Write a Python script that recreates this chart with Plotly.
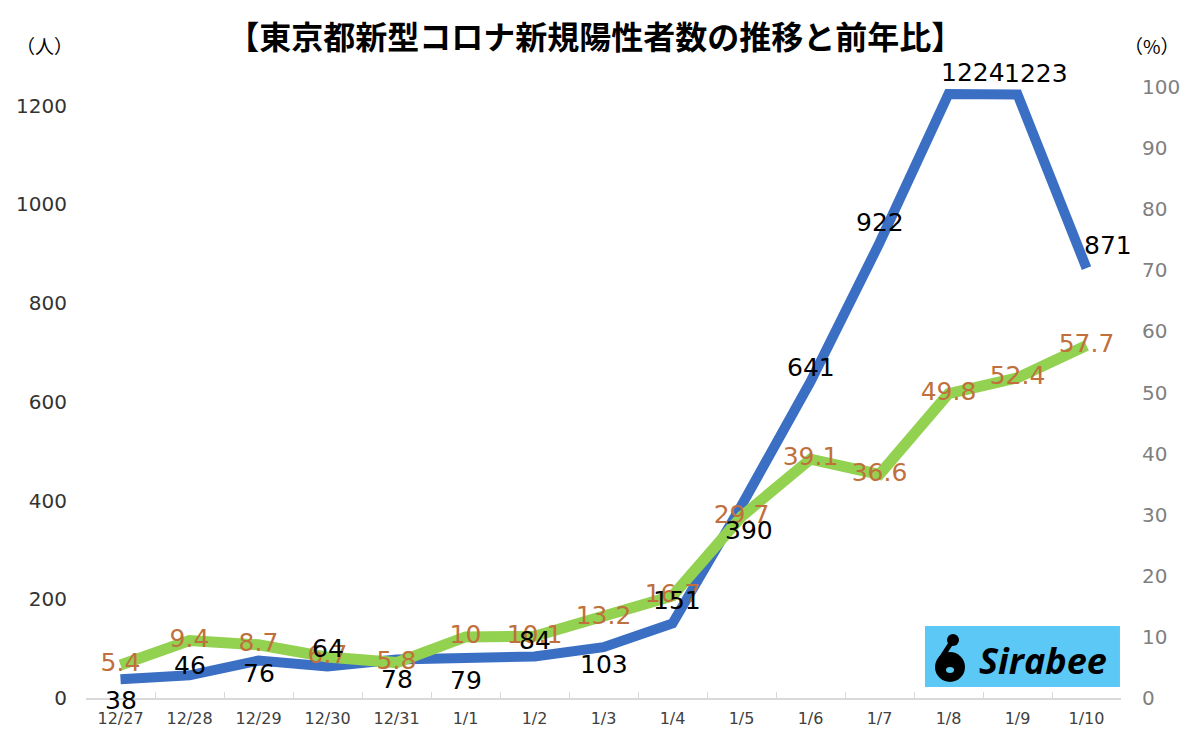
import plotly.graph_objects as go

dates = ["12/27", "12/28", "12/29", "12/30", "12/31", "1/1", "1/2", "1/3",
         "1/4", "1/5", "1/6", "1/7", "1/8", "1/9", "1/10"]
cases = [38, 46, 76, 64, 78, 79, 84, 103, 151, 390, 641, 922, 1224, 1223, 871]
ratio = [5.4, 9.4, 8.7, 6.7, 5.8, 10, 10.1, 13.2, 16.7, 29.7, 39.1, 36.6, 49.8, 52.4, 57.7]
left_ticks = [0, 200, 400, 600, 800, 1000, 1200]
right_ticks = [0, 10, 20, 30, 40, 50, 60, 70, 80, 90, 100]

# label offsets (pixels) for case labels
case_yshift = [-21, 10, -13, 18, -20, -21, 16, -17, 23, -25, 14, 20, 21, 21, 23]
case_xshift = [0, 0, 0, 0, 0, 0, 0, 0, 4, 7, 0, 0, 24, 18, 21]

BLUE = "#3A6FC4"
GREEN = "#93D250"
ORANGE = "#C0703C"
FONT = "Noto Sans CJK JP"
NUMFONT = "DejaVu Sans"

fig = go.Figure()
fig.add_trace(go.Scatter(
    x=dates, y=cases, mode="lines", yaxis="y",
    line=dict(color=BLUE, width=10), showlegend=False, hoverinfo="skip"))
fig.add_trace(go.Scatter(
    x=dates, y=ratio, mode="lines+text", yaxis="y2",
    text=[f"{v:g}" for v in ratio], textposition="middle center",
    textfont=dict(color=ORANGE, size=25, family=NUMFONT),
    line=dict(color=GREEN, width=11), showlegend=False, hoverinfo="skip"))

annotations = []
for d, v, ys, xs in zip(dates, cases, case_yshift, case_xshift):
    annotations.append(dict(
        x=d, y=v, xref="x", yref="y", text=str(v), showarrow=False,
        xanchor="center", yanchor="middle",
        yshift=ys, xshift=xs,
        font=dict(size=25, color="#000000", family=NUMFONT)))

annotations += [
    dict(x=(44 - 86) / 1035, y=(698 - 45) / 611, xref="paper", yref="paper", text="（人）",
         showarrow=False, xanchor="center", yanchor="middle",
         font=dict(size=19, color="#000000", family=FONT)),
    dict(x=(1152 - 86) / 1035, y=(698 - 45) / 611, xref="paper", yref="paper", text="（%）",
         showarrow=False, xanchor="center", yanchor="middle",
         font=dict(size=19, color="#000000", family=FONT)),
    dict(x=(1043 - 86) / 1035, y=(698 - 660) / 611, xref="paper", yref="paper",
         text="<b><i>Sirabee</i></b>", showarrow=False, xanchor="center", yanchor="middle",
         font=dict(size=36, color="#000000", family="Open Sans")),
]

shapes = [
    dict(type="rect", xref="paper", yref="paper", x0=0.8106, x1=0.999, y0=0.018, y1=0.118,
         fillcolor="#5BC8F5", line=dict(width=0), layer="above"),
    dict(type="circle", xref="paper", yref="paper",
         x0=(950 - 15 - 86) / 1035, x1=(950 + 15 - 86) / 1035,
         y0=(698 - 667 - 15) / 611, y1=(698 - 667 + 15) / 611,
         fillcolor="#000000", line=dict(width=0), layer="above"),
    dict(type="circle", xref="paper", yref="paper",
         x0=(953 - 6 - 86) / 1035, x1=(953 + 6 - 86) / 1035,
         y0=(698 - 640 - 6) / 611, y1=(698 - 640 + 6) / 611,
         fillcolor="#000000", line=dict(width=0), layer="above"),
    dict(type="line", xref="paper", yref="paper",
         x0=(951 - 86) / 1035, x1=(940 - 86) / 1035,
         y0=(698 - 643) / 611, y1=(698 - 660) / 611,
         line=dict(color="#000000", width=5), layer="above"),
    dict(type="circle", xref="paper", yref="paper",
         x0=(950 - 4 - 86) / 1035, x1=(950 + 4 - 86) / 1035,
         y0=(698 - 670 - 3) / 611, y1=(698 - 670 + 3) / 611,
         fillcolor="#5BC8F5", line=dict(width=0), layer="above"),
]

fig.update_layout(
    width=1200, height=742,
    margin=dict(l=86, r=79, t=87, b=44),
    paper_bgcolor="white", plot_bgcolor="white",
    font=dict(family=FONT),
    title=dict(text="<b>【東京都新型コロナ新規陽性者数の推移と前年比】</b>",
               x=0.496, xanchor="center", y=1 - 38 / 742, yanchor="middle",
               font=dict(size=32, color="#000000", family=FONT)),
    xaxis=dict(type="category", range=[-0.5, len(dates) - 0.5], showgrid=False,
               showline=True, linecolor="#D9D9D9",
               linewidth=2, ticks="inside", ticklen=6, tickcolor="#D9D9D9",
               tickson="boundaries", tickfont=dict(size=16, color="#404040", family=NUMFONT),
               ticklabelstandoff=5, zeroline=False),
    yaxis=dict(range=[0, 1238], tickvals=left_ticks, showgrid=False, showline=False,
               zeroline=False, tickfont=dict(size=20, color="#333333", family=NUMFONT),
               ticklabelstandoff=18),
    yaxis2=dict(range=[0, 100], tickvals=right_ticks, overlaying="y", side="right",
                showgrid=False, showline=False, zeroline=False,
                tickfont=dict(size=20, color="#7F7F7F", family=NUMFONT),
                ticklabelstandoff=20),
    annotations=annotations,
    shapes=shapes,
)

fig.write_html("out.html", config={"displayModeBar": False},
               post_script="document.body.style.margin='0';")
